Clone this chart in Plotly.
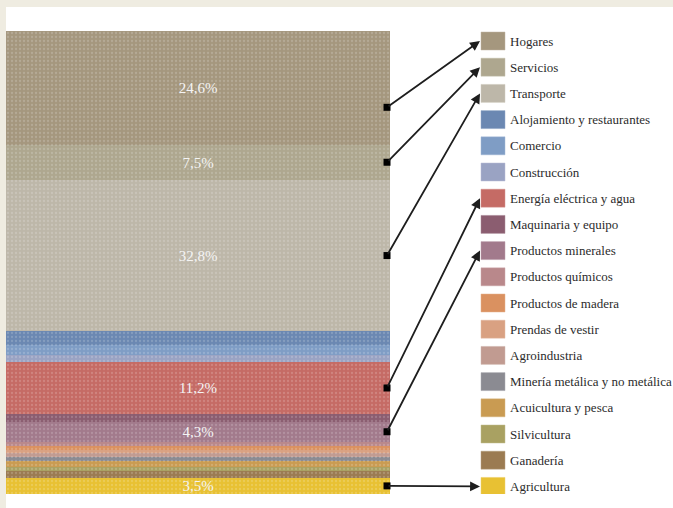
import plotly.graph_objects as go
import numpy as np

# Sectors, top of bar to bottom (same order as the legend)
sectors = ["Hogares", "Servicios", "Transporte", "Alojamiento y restaurantes", "Comercio",
           "Construcción", "Energía eléctrica y agua", "Maquinaria y equipo",
           "Productos minerales", "Productos químicos", "Productos de madera",
           "Prendas de vestir", "Agroindustria", "Minería metálica y no metálica",
           "Acuicultura y pesca", "Silvicultura", "Ganadería", "Agricultura"]
shares = [24.6, 7.5, 32.8, 3.0, 2.0, 1.6, 11.2, 1.7, 4.3, 0.9, 0.8, 0.8, 0.8, 0.8,
          1.4, 0.8, 1.5, 3.5]
labels = ["24,6%", "7,5%", "32,8%", "", "", "", "11,2%", "", "4,3%", "", "", "", "", "",
          "", "", "", "3,5%"]
colors = ["#a5977e", "#aea78f", "#bdb7a9", "#6b88b2", "#7f9dc5", "#9aa3c3", "#c56b65",
          "#8b5d70", "#a27a8c", "#b9888b", "#da9160", "#d9a182", "#c19b91", "#8b8b92",
          "#c99b52", "#a9a162", "#9b7b52", "#e8c133"]
arrowed = ["Hogares", "Servicios", "Transporte", "Energía eléctrica y agua",
           "Productos minerales", "Agricultura"]

W, H = 673, 508
L, T, B = 6, 31, 14
plot_h = H - T - B
bar_left, bar_right = 0, 384


def py(p):
    # pixel row -> y data value
    return (H - B - p) / plot_h * 100


def lighten(hexc, f):
    h = hexc.lstrip("#")
    r, g, b = [int(h[i:i + 2], 16) for i in (0, 2, 4)]
    r, g, b = [int(c + (255 - c) * f) for c in (r, g, b)]
    return f"#{r:02x}{g:02x}{b:02x}"


fig = go.Figure()
n = len(sectors)
for i in reversed(range(n)):
    fig.add_trace(go.Bar(
        x=[(bar_left + bar_right) / 2], y=[shares[i]], width=[bar_right - bar_left],
        name=sectors[i], marker=dict(color=colors[i], line=dict(width=0),
                                     pattern=dict(shape=".", fgcolor=lighten(colors[i], 0.35),
                                                  size=4, solidity=0.25)),
        text=[labels[i]], textposition="inside", insidetextanchor="middle", textangle=0,
        textfont=dict(family="Liberation Serif", size=15, color="#f4f4f4"),
        hoverinfo="name+y", showlegend=False))

# cumulative centers (top to bottom)
tops = 100 - np.concatenate([[0], np.cumsum(shares)[:-1]])
centers = tops - np.array(shares) / 2

shapes = []
annotations = []
# white panel on beige background
shapes.append(dict(type="rect", xref="paper", yref="paper", x0=0, x1=1.01,
                   y0=-B / plot_h - 0.01, y1=(H - B - 7) / plot_h, fillcolor="white",
                   line=dict(width=0), layer="below"))

row0, step = 41, 26.2
box_x0, box_x1 = 475, 499
mx, my = [], []
for i, s in enumerate(sectors):
    pc = row0 + step * i
    shapes.append(dict(type="rect", xref="x", yref="y", x0=box_x0, x1=box_x1,
                       y0=py(pc + 9), y1=py(pc - 9), fillcolor=colors[i],
                       line=dict(width=0.5, color=lighten(colors[i], 0.3))))
    annotations.append(dict(x=502, y=py(pc), xref="x", yref="y", text=s, showarrow=False,
                            xanchor="left", yanchor="middle",
                            font=dict(family="Liberation Serif", size=13, color="#2b2b2b")))
    if s in arrowed:
        yc = centers[i]
        if s == "Hogares":
            yc = centers[i] - shares[i] * 0.17
        mx.append(bar_right - 3)
        my.append(yc)
        annotations.append(dict(x=box_x0 - 1, y=py(pc), xref="x", yref="y",
                                ax=bar_right - 3, ay=yc, axref="x", ayref="y",
                                showarrow=True, arrowhead=2, arrowsize=1.1, arrowwidth=1.8,
                                arrowcolor="#1e1e1e", text=""))

fig.add_trace(go.Scatter(x=mx, y=my, mode="markers", showlegend=False, hoverinfo="skip",
                         marker=dict(symbol="square", size=7, color="black")))

fig.update_layout(
    width=W, height=H, barmode="stack", bargap=0,
    margin=dict(l=L, r=0, t=T, b=B),
    paper_bgcolor="#efece1", plot_bgcolor="rgba(0,0,0,0)",
    xaxis=dict(range=[0, W - L], visible=False, fixedrange=True),
    yaxis=dict(range=[0, 100], visible=False, fixedrange=True),
    shapes=shapes, annotations=annotations,
    uniformtext=dict(minsize=15, mode="show"),
)
fig.write_html("out.html")
